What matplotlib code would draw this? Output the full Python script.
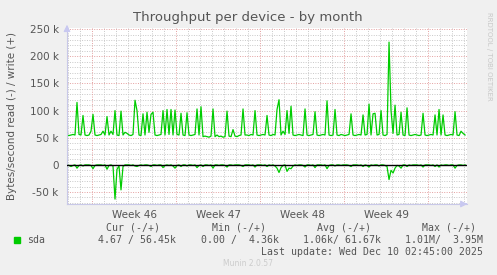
import matplotlib
matplotlib.use("Agg")
import matplotlib.pyplot as plt
import numpy as np

# write (+) in k bytes/s, one sample every 4 hours
write_k = [
    55, 54, 55, 56, 55, 115, 56, 55, 91, 55,
    54, 55, 62, 93, 55, 54, 55, 56, 62, 55,
    89, 55, 62, 56, 100, 55, 54, 99, 55, 60,
    58, 55, 54, 56, 119, 100, 55, 54, 94, 55,
    97, 60, 93, 97, 55, 54, 55, 56, 100, 55,
    102, 56, 102, 55, 101, 56, 55, 95, 55, 54,
    96, 55, 54, 55, 56, 103, 55, 107, 52, 53,
    52, 51, 53, 103, 52, 55, 52, 53, 51, 52,
    99, 53, 52, 65, 53, 52, 54, 55, 103, 55,
    55, 54, 56, 55, 100, 55, 54, 55, 56, 55,
    91, 55, 54, 56, 55, 102, 120, 55, 62, 56,
    100, 58, 108, 55, 54, 55, 56, 55, 54, 103,
    55, 54, 55, 56, 98, 55, 54, 55, 56, 55,
    118, 55, 54, 55, 102, 55, 54, 56, 55, 54,
    55, 56, 94, 55, 54, 55, 56, 55, 92, 55,
    56, 112, 55, 94, 95, 55, 56, 100, 55, 54,
    56, 226, 100, 58, 110, 55, 56, 97, 55, 54,
    105, 55, 54, 55, 56, 55, 54, 55, 95, 55,
    54, 55, 56, 55, 92, 55, 102, 55, 92, 55,
    54, 55, 56, 55, 98, 55, 54, 62, 58, 55,
]
# read (-) in k bytes/s
read_k = [
    0, 1, 3, 1, 0, 6, 1, 0, 2, 0,
    0, 0, 1, 7, 1, 0, 0, 0, 1, 0,
    8, 1, 0, 2, 63, 8, 2, 46, 3, 0,
    0, 0, 1, 0, 2, 3, 1, 0, 1, 0,
    0, 1, 3, 0, 0, 1, 0, 0, 5, 1,
    0, 1, 0, 2, 6, 1, 0, 3, 0, 0,
    2, 0, 0, 1, 0, 5, 1, 0, 3, 0,
    0, 1, 0, 6, 0, 0, 1, 0, 0, 1,
    4, 0, 0, 1, 0, 0, 0, 1, 3, 0,
    0, 0, 1, 0, 4, 0, 0, 0, 1, 0,
    3, 0, 1, 0, 2, 6, 14, 5, 1, 0,
    12, 6, 7, 2, 0, 1, 0, 0, 1, 4,
    0, 0, 1, 0, 5, 0, 0, 0, 1, 0,
    7, 1, 0, 0, 2, 0, 0, 1, 0, 0,
    0, 1, 3, 0, 0, 0, 1, 0, 3, 0,
    1, 4, 0, 1, 0, 0, 2, 0, 0, 1,
    3, 27, 10, 15, 6, 1, 2, 6, 0, 0,
    3, 0, 1, 0, 0, 0, 1, 0, 4, 0,
    0, 0, 1, 0, 3, 0, 4, 0, 1, 0,
    0, 1, 0, 0, 6, 1, 0, 0, 1, 0,
]
week_labels = ["Week 46", "Week 47", "Week 48", "Week 49"]
week_starts = [2.083, 9.083, 16.083, 23.083, 30.083]   # days from left edge
y_ticks = [-50000, 0, 50000, 100000, 150000, 200000, 250000]
y_tick_labels = ["-50 k", "0", "50 k", "100 k", "150 k", "200 k", "250 k"]
headers = ["Cur (-/+)", "Min (-/+)", "Avg (-/+)", "Max (-/+)"]
values = ["4.67 / 56.45k", "0.00 /  4.36k", "1.06k/ 61.67k", "1.01M/  3.95M"]

W, H = 497, 275
fig = plt.figure(figsize=(W / 100, H / 100), dpi=100)
fig.patch.set_facecolor("#f0f0f0")


def fx(x):
    return x / W


def fy(y):
    return 1 - y / H


ax = fig.add_axes([fx(67), fy(204), fx(467) - fx(67), fy(28) - fy(204)])
ax.set_facecolor("white")

t = np.arange(len(write_k)) / 6.0
green = "#00cc00"
ax.plot(t, np.array(write_k) * 1000, color=green, lw=0.9)
ax.plot(t, -np.array(read_k) * 1000, color=green, lw=0.9)
ax.axhline(0, color="black", lw=1.0, zorder=3)

ax.set_xlim(0, 33.33)
ax.set_ylim(-72000, 252000)

# grid: gray per day / 10k, red per week / 50k
grid_ls = (0, (1, 1.5))
for d in np.arange(0.083, 33.3, 1.0):
    if any(abs(d - w) < 0.01 for w in week_starts):
        continue
    ax.axvline(d, color="#c8c8c8", lw=0.7, ls=grid_ls, zorder=0)
for yv in range(-70000, 250001, 10000):
    if yv % 50000 == 0:
        continue
    ax.axhline(yv, color="#c8c8c8", lw=0.7, ls=grid_ls, zorder=0)
for w in week_starts:
    ax.axvline(w, color="#e4a0a0", lw=0.7, ls=grid_ls, zorder=0)
for yv in y_ticks:
    if yv != 0:
        ax.axhline(yv, color="#e4a0a0", lw=0.7, ls=grid_ls, zorder=0)

for s in ["top", "right"]:
    ax.spines[s].set_visible(False)
ax.spines["left"].set_color("#c8c8e8")
ax.spines["bottom"].set_color("#c8c8e8")

ax.set_yticks(y_ticks)
ax.set_yticklabels(y_tick_labels)
ax.tick_params(axis="y", length=0, labelsize=7.5, colors="#555555", pad=6)
ax.set_xticks([w + 3.5 for w in week_starts[:4]])
ax.set_xticklabels(week_labels)
ax.tick_params(axis="x", length=0, labelsize=7.5, colors="#555555", pad=4)

# axis arrows
ax.annotate("", xy=(33.6, -72000), xytext=(33.0, -72000), xycoords="data",
            arrowprops=dict(arrowstyle="-|>", color="#c8c8f0", lw=0.8),
            annotation_clip=False)
ax.annotate("", xy=(0, 258000), xytext=(0, 248000), xycoords="data",
            arrowprops=dict(arrowstyle="-|>", color="#c8c8f0", lw=0.8),
            annotation_clip=False)

fig.text(fx(248), fy(18), "Throughput per device - by month", ha="center",
         va="center", fontsize=9.5, color="#555555")
fig.text(fx(12), fy(116), "Bytes/second read (-) / write (+)", rotation=90,
         ha="center", va="center", fontsize=7.5, color="#555555")
fig.text(fx(489), fy(56), "RRDTOOL / TOBI OETIKER", rotation=270,
         ha="center", va="center", fontsize=5, color="#c8c8c8")

mono = "DejaVu Sans Mono"
head_right = [160, 266, 371, 476]
val_right = [176, 279, 381, 483]
for hr, h in zip(head_right, headers):
    fig.text(fx(hr), fy(228), h, ha="right", va="center", fontsize=7.1,
             family=mono, color="#555555")
for vr, v in zip(val_right, values):
    fig.text(fx(vr), fy(240), v, ha="right", va="center", fontsize=7.1,
             family=mono, color="#555555")
fig.patches.append(plt.Rectangle((fx(14), fy(243)), fx(6), fy(237) - fy(243),
                                 transform=fig.transFigure, color=green))
fig.text(fx(27), fy(240), "sda", ha="left", va="center", fontsize=7.1,
         family=mono, color="#555555")
fig.text(fx(483), fy(252), "Last update: Wed Dec 10 02:45:00 2025", ha="right",
         va="center", fontsize=7.1, family=mono, color="#555555")
fig.text(fx(248), fy(263), "Munin 2.0.57", ha="center", va="center",
         fontsize=5.5, color="#cccccc")

fig.savefig("out.png", dpi=100, facecolor=fig.get_facecolor())
